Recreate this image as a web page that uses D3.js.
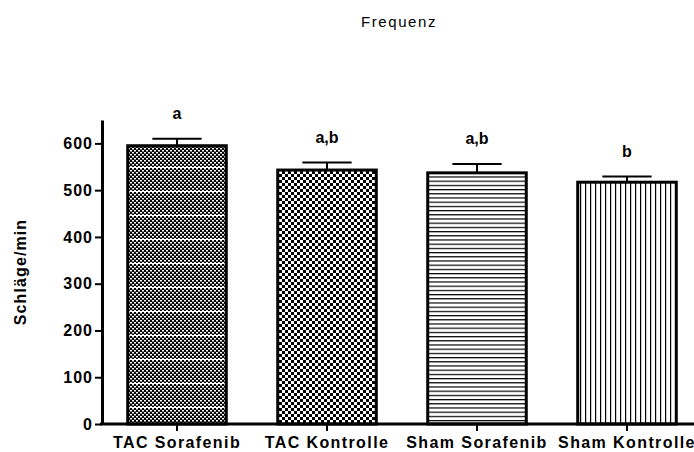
<!DOCTYPE html>
<html>
<head>
<meta charset="utf-8">
<script src="https://cdn.jsdelivr.net/npm/d3@7"></script>
<style>
  body { margin: 0; background: #fff; }
  text { font-family: "Liberation Sans", Arial, sans-serif; }
</style>
</head>
<body>
<svg id="chart"></svg>
<script>
// Frequency data per group
const groups = ["TAC Sorafenib", "TAC Kontrolle", "Sham Sorafenib", "Sham Kontrolle"];
const means = [595, 543, 537, 517];
const sems = [15, 16, 19, 12];
const letters = ["a", "a,b", "a,b", "b"];
const yTicks = [0, 100, 200, 300, 400, 500, 600];
const patterns = ["fine", "checker", "hlines", "vlines"];

const width = 694;
const height = 452;

const svg = d3.select("#chart")
    .attr("width", width)
    .attr("height", height);

// fill patterns, like the Prism bar fills
const defs = svg.append("defs");

const fine = defs.append("pattern").attr("id", "fine")
    .attr("patternUnits", "userSpaceOnUse").attr("width", 4).attr("height", 24);
fine.append("rect").attr("width", 4).attr("height", 24).attr("fill", "#000");
for (let y = 0; y < 22; y += 4) {
    fine.append("rect").attr("x", 0).attr("y", y).attr("width", 2).attr("height", 1.5).attr("fill", "#fff");
    fine.append("rect").attr("x", 2).attr("y", y + 2).attr("width", 2).attr("height", 1.5).attr("fill", "#fff");
}
fine.append("rect").attr("x", 0).attr("y", 23).attr("width", 4).attr("height", 1).attr("fill", "#fff");

const checker = defs.append("pattern").attr("id", "checker")
    .attr("patternUnits", "userSpaceOnUse").attr("width", 6).attr("height", 6);
checker.append("rect").attr("width", 6).attr("height", 6).attr("fill", "#000");
checker.append("rect").attr("x", 0).attr("y", 0).attr("width", 3).attr("height", 3).attr("fill", "#fff");
checker.append("rect").attr("x", 3).attr("y", 3).attr("width", 3).attr("height", 3).attr("fill", "#fff");

const hl = defs.append("pattern").attr("id", "hlines")
    .attr("patternUnits", "userSpaceOnUse").attr("width", 10).attr("height", 4.2);
hl.append("rect").attr("width", 10).attr("height", 4.2).attr("fill", "#fff");
hl.append("rect").attr("y", 0).attr("width", 10).attr("height", 1.2).attr("fill", "#000");

const vl = defs.append("pattern").attr("id", "vlines")
    .attr("patternUnits", "userSpaceOnUse").attr("width", 5).attr("height", 10);
vl.append("rect").attr("width", 5).attr("height", 10).attr("fill", "#fff");
vl.append("rect").attr("x", 0).attr("width", 1.2).attr("height", 10).attr("fill", "#000");

// scales
const x = d3.scaleBand()
    .domain(groups)
    .range([102, 702])
    .paddingInner(0.343)
    .paddingOuter(0.1715);

const y = d3.scaleLinear()
    .domain([0, 650])
    .range([424, 120]);

// title
svg.append("text")
    .attr("x", 399)
    .attr("y", 27)
    .attr("text-anchor", "middle")
    .style("font-size", "15px")
    .style("letter-spacing", "1.6px")
    .text("Frequenz");

// y axis label
svg.append("text")
    .attr("transform", "translate(26,272) rotate(-90)")
    .attr("text-anchor", "middle")
    .style("font-size", "16px")
    .style("font-weight", "bold")
    .style("letter-spacing", "1.1px")
    .text("Schläge/min");

// bars
svg.append("g")
    .selectAll("rect")
    .data(groups)
    .join("rect")
    .attr("x", d => x(d))
    .attr("y", (d, i) => y(means[i]))
    .attr("width", x.bandwidth())
    .attr("height", (d, i) => y(0) - y(means[i]))
    .attr("fill", (d, i) => `url(#${patterns[i]})`)
    .attr("stroke", "#000")
    .attr("stroke-width", 3);

// error bars (upper only)
const err = svg.append("g").attr("stroke", "#000").attr("stroke-width", 2);
groups.forEach((g, i) => {
    const cx = x(g) + x.bandwidth() / 2;
    err.append("line")
        .attr("x1", cx).attr("x2", cx)
        .attr("y1", y(means[i])).attr("y2", y(means[i] + sems[i]));
    err.append("line")
        .attr("x1", cx - x.bandwidth() / 4).attr("x2", cx + x.bandwidth() / 4)
        .attr("y1", y(means[i] + sems[i])).attr("y2", y(means[i] + sems[i]));
});

// significance letters
svg.append("g")
    .selectAll("text")
    .data(groups)
    .join("text")
    .attr("x", d => x(d) + x.bandwidth() / 2)
    .attr("y", (d, i) => y(means[i] + sems[i]) - 20)
    .attr("text-anchor", "middle")
    .style("font-size", "16px")
    .style("font-weight", "bold")
    .text((d, i) => letters[i]);

// y axis
const yAxis = svg.append("g")
    .attr("transform", "translate(102,0)")
    .call(d3.axisLeft(y).tickValues(yTicks).tickSize(7).tickPadding(2).tickSizeOuter(0));
yAxis.select(".domain").attr("stroke-width", 3);
yAxis.selectAll(".tick line").attr("stroke-width", 2);
yAxis.selectAll("text")
    .style("font-size", "16px")
    .style("font-weight", "bold")
    .style("letter-spacing", "1px")
    .attr("fill", "#000");

// x axis
const xAxis = svg.append("g")
    .attr("transform", "translate(0,424)")
    .call(d3.axisBottom(x).tickSize(7).tickPadding(6).tickSizeOuter(0));
xAxis.select(".domain").attr("stroke-width", 3).attr("d", "M100,0H702");
xAxis.selectAll(".tick line").attr("stroke-width", 2);
xAxis.selectAll("text")
    .style("font-size", "16px")
    .style("font-weight", "bold")
    .style("letter-spacing", "1.4px")
    .attr("fill", "#000");
</script>
</body>
</html>
